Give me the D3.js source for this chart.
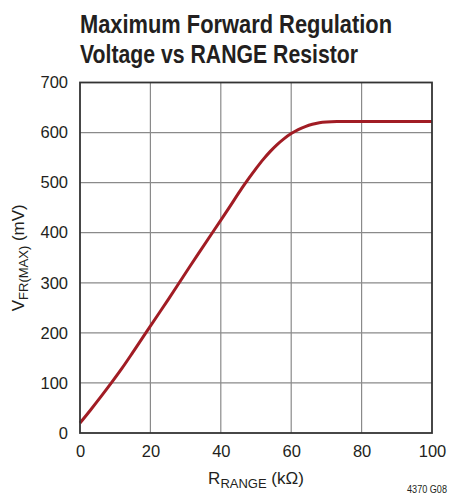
<!DOCTYPE html>
<html>
<head>
<meta charset="utf-8">
<script src="https://cdn.jsdelivr.net/npm/d3@7"></script>
<style>
  html, body { margin: 0; padding: 0; background: #fff; }
  svg { display: block; }
</style>
</head>
<body>
<svg id="chart" width="451" height="498"></svg>
<script>
// ---- data ----
const rangeK = [0, 3, 6, 9, 12, 15, 18.6, 25, 31.25, 37.7, 42, 46, 48, 50, 52, 54, 56, 58, 60, 62, 64, 66, 68, 70, 73, 80, 90, 100];
const vfrMax = [20, 46, 73, 101, 130, 161, 199, 266, 333, 401, 446, 489, 509, 528, 546, 562, 576, 588, 598, 606, 612, 616.5, 619.5, 621, 622, 622, 622, 622];
const xTicks = [0, 20, 40, 60, 80, 100];
const yTicks = [0, 100, 200, 300, 400, 500, 600, 700];
const titleLines = ["Maximum Forward Regulation", "Voltage vs RANGE Resistor"];
const titleWidths = [312, 278];

const svg = d3.select("#chart");
const L = 80, R = 432, T = 82.5, B = 433;
const x = d3.scaleLinear().domain([0, 100]).range([L, R]);
const y = d3.scaleLinear().domain([0, 700]).range([B, T]);

// title
svg.append("g").selectAll("text").data(titleLines).join("text")
  .attr("x", 80)
  .attr("y", (d, i) => 33 + i * 30)
  .attr("font-family", "'Liberation Sans', Arial, sans-serif")
  .attr("font-weight", "bold")
  .attr("font-size", 26)
  .attr("textLength", (d, i) => titleWidths[i])
  .attr("lengthAdjust", "spacingAndGlyphs")
  .attr("fill", "#231f20")
  .text(d => d);

// grid
svg.append("g").selectAll("line").data(xTicks.slice(1, -1)).join("line")
  .attr("x1", d => x(d)).attr("x2", d => x(d))
  .attr("y1", T).attr("y2", B)
  .attr("stroke", "#8a8a8a").attr("stroke-width", 1.2);
svg.append("g").selectAll("line").data(yTicks.slice(1, -1)).join("line")
  .attr("y1", d => y(d)).attr("y2", d => y(d))
  .attr("x1", L).attr("x2", R)
  .attr("stroke", "#8a8a8a").attr("stroke-width", 1.2);

// axes (labels only)
const xAxis = svg.append("g").attr("transform", `translate(0,${B})`)
  .call(d3.axisBottom(x).tickValues(xTicks).tickSize(0).tickPadding(12));
const yAxis = svg.append("g").attr("transform", `translate(${L},0)`)
  .call(d3.axisLeft(y).tickValues(yTicks).tickSize(0).tickPadding(12));
[xAxis, yAxis].forEach(g => {
  g.select(".domain").remove();
  g.selectAll("text")
    .attr("font-family", "'Liberation Sans', Arial, sans-serif")
    .attr("font-size", 16.5)
    .attr("fill", "#231f20");
});

// curve
const line = d3.line().x((d, i) => x(rangeK[i])).y(d => y(d)).curve(d3.curveCatmullRom.alpha(0.5));
svg.append("path")
  .datum(vfrMax)
  .attr("d", line)
  .attr("fill", "none")
  .attr("stroke", "#a11c24")
  .attr("stroke-width", 3)
  .attr("stroke-linejoin", "round");

// frame
svg.append("rect")
  .attr("x", L).attr("y", T).attr("width", R - L).attr("height", B - T)
  .attr("fill", "none").attr("stroke", "#333").attr("stroke-width", 1.8);

// y label
const yl = svg.append("text")
  .attr("transform", `translate(24,${(T + B) / 2}) rotate(-90)`)
  .attr("text-anchor", "middle")
  .attr("font-family", "'Liberation Sans', Arial, sans-serif")
  .attr("font-size", 17)
  .attr("fill", "#231f20");
yl.append("tspan").text("V");
yl.append("tspan").attr("font-size", 13).attr("dy", 4).text("FR(MAX)");
yl.append("tspan").attr("dy", -4).text(" (mV)");

// x label
const xl = svg.append("text")
  .attr("x", (L + R) / 2).attr("y", 484)
  .attr("text-anchor", "middle")
  .attr("font-family", "'Liberation Sans', Arial, sans-serif")
  .attr("font-size", 17)
  .attr("fill", "#231f20");
xl.append("tspan").text("R");
xl.append("tspan").attr("font-size", 13).attr("dy", 4).text("RANGE");
xl.append("tspan").attr("dy", -4).text(" (kΩ)");

// figure id
svg.append("text")
  .attr("x", 407).attr("y", 493)
  .attr("font-family", "'Liberation Sans', sans-serif")
  .attr("font-size", 10)
  .attr("textLength", 40)
  .attr("lengthAdjust", "spacingAndGlyphs")
  .attr("fill", "#231f20")
  .text("4370 G08");
</script>
</body>
</html>
